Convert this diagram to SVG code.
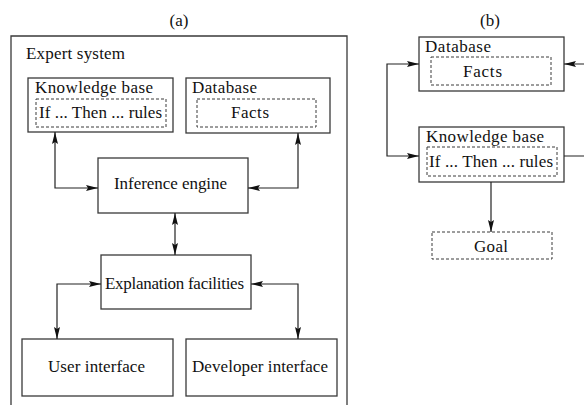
<svg xmlns="http://www.w3.org/2000/svg" width="584" height="405" viewBox="0 0 584 405">
<defs>
<marker id="ah" viewBox="0 0 12 6" refX="12" refY="3" markerWidth="12" markerHeight="6" markerUnits="userSpaceOnUse" orient="auto-start-reverse">
<path d="M0,0 L12,3 L0,6 L2,3 Z" fill="#111"/>
</marker>
<style>
.box{fill:#fff;stroke:#3a3a3a;stroke-width:1.3}
.dash{fill:none;stroke:#3a3a3a;stroke-width:1;stroke-dasharray:3,2}
.ln{fill:none;stroke:#222;stroke-width:1.2}
.t{font-family:'Liberation Serif','Times New Roman','DejaVu Serif',serif;font-size:17px;fill:#111}
.c{text-anchor:middle}
</style>
</defs>
<g font-family="Liberation Serif, Times New Roman, serif" font-size="17">
<rect width="584" height="405" fill="#fff"/>
<text class="t c" x="179" y="26">(a)</text>
<text class="t c" x="490" y="26">(b)</text>

<g id="expert-system">
<path class="box" d="M11,410 V36 H347 V410" fill="#fcfcfc"/>
<text class="t" x="26" y="59" textLength="99">Expert system</text>
</g>

<g id="knowledge-base-a">
<rect class="box" x="28" y="78" width="145" height="54"/>
<text class="t" x="35" y="93" textLength="118">Knowledge base</text>
<rect class="dash" x="36" y="99" width="130" height="28"/>
<text class="t" x="39" y="118" textLength="123">If ... Then ... rules</text>
</g>

<g id="database-a">
<rect class="box" x="186" y="78" width="144" height="55"/>
<text class="t" x="192" y="93" textLength="65">Database</text>
<rect class="dash" x="197" y="99" width="119" height="28"/>
<text class="t" x="231" y="118" textLength="38">Facts</text>
</g>

<g id="inference-engine">
<rect class="box" x="98" y="158" width="150" height="55"/>
<text class="t" x="114" y="189" textLength="113">Inference engine</text>
</g>

<g id="explanation-facilities">
<rect class="box" x="101" y="255" width="150" height="54"/>
<text class="t" x="105" y="289" textLength="139">Explanation facilities</text>
</g>

<g id="user-interface">
<rect class="box" x="22" y="339" width="151" height="57"/>
<text class="t" x="48" y="372" textLength="97">User interface</text>
</g>

<g id="developer-interface">
<rect class="box" x="186" y="339" width="151" height="57"/>
<text class="t" x="192" y="372" textLength="136">Developer interface</text>
</g>

<g id="database-b">
<rect class="box" x="419" y="37" width="145" height="54"/>
<text class="t" x="425" y="52" textLength="66">Database</text>
<rect class="dash" x="431" y="57" width="120" height="28"/>
<text class="t" x="463" y="77" textLength="39">Facts</text>
</g>

<g id="knowledge-base-b">
<rect class="box" x="419" y="127" width="145" height="55"/>
<text class="t" x="426" y="142" textLength="118">Knowledge base</text>
<rect class="dash" x="427" y="147" width="130" height="29"/>
<text class="t" x="429" y="167" textLength="124">If ... Then ... rules</text>
</g>

<g id="goal">
<rect class="dash" x="432" y="232" width="120" height="27"/>
<text class="t" x="474" y="252" textLength="34">Goal</text>
</g>

<g id="connectors">
<path class="ln" d="M55,132 V188 H98" marker-start="url(#ah)" marker-end="url(#ah)"/>
<path class="ln" d="M298,133 V188 H248" marker-start="url(#ah)" marker-end="url(#ah)"/>
<path class="ln" d="M175,213 V255" marker-start="url(#ah)" marker-end="url(#ah)"/>
<path class="ln" d="M101,284 H57 V339" marker-start="url(#ah)" marker-end="url(#ah)"/>
<path class="ln" d="M251,284 H298 V339" marker-start="url(#ah)" marker-end="url(#ah)"/>
<path class="ln" d="M419,64 H387 V156 H419" marker-start="url(#ah)" marker-end="url(#ah)"/>
<path class="ln" d="M564,156 H592 V64 H564" marker-end="url(#ah)"/>
<path class="ln" d="M491,182 V232" marker-end="url(#ah)"/>
</g>
</g>
</svg>
